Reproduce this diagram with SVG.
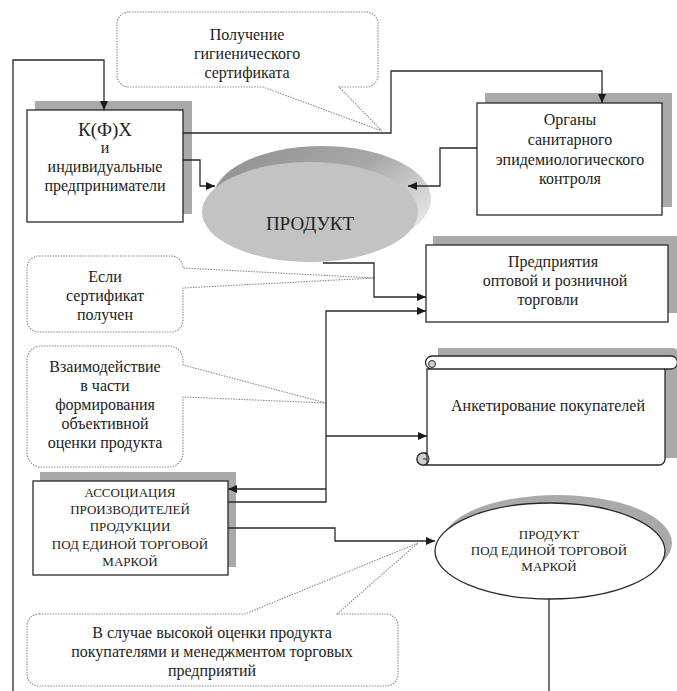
<svg xmlns="http://www.w3.org/2000/svg" width="677" height="691" viewBox="0 0 677 691">
<defs>
<style>
.bg{fill:#ffffff}
.box{fill:#ffffff;stroke:#2a2a2a;stroke-width:1.3}
.shadow{fill:#a9a9a9}
.callout{fill:#ffffff;stroke:#8a8a8a;stroke-width:1.1;stroke-dasharray:1.5 1.2}
.conn{fill:none;stroke:#2a2a2a;stroke-width:1.3}
text{font-family:'Liberation Serif','DejaVu Serif',serif;fill:#222;text-anchor:middle}
.t16{font-size:16px}
.t13{font-size:13px}
</style>
<marker id="arr" markerWidth="9" markerHeight="8" refX="9" refY="4" orient="auto" markerUnits="userSpaceOnUse">
<path d="M0,0 L9,4 L0,8 Z" fill="#1a1a1a"/>
</marker>
<linearGradient id="pshadow" x1="0" y1="0" x2="1" y2="0.6">
<stop offset="0" stop-color="#8f8f8f"/>
<stop offset="0.6" stop-color="#a8a8a8"/>
<stop offset="1" stop-color="#e2e2e2"/>
</linearGradient>
</defs>
<rect class="bg" x="0" y="0" width="677" height="691"/>

<g id="callout-certificate" font-family="Liberation Serif">
<path class="callout" d="M129,12 H366 A12 12 0 0 1 378,24 V75 A12 12 0 0 1 366,87 H339 L382,131 L263,87 H129 A12 12 0 0 1 117,75 V24 A12 12 0 0 1 129,12 Z"/>
<text class="t16" x="247" y="40">Получение</text>
<text class="t16" x="247" y="59">гигиенического</text>
<text class="t16" x="247" y="78">сертификата</text>
</g>

<g id="node-kfx">
<rect class="shadow" x="35" y="101" width="157" height="113"/>
<rect class="box" x="27" y="110" width="156" height="112"/>
<text font-size="19" x="105" y="136">К(Ф)Х</text>
<text class="t16" x="105" y="153">и</text>
<text class="t16" x="105" y="172">индивидуальные</text>
<text class="t16" x="105" y="191">предприниматели</text>
</g>

<g id="node-organs">
<rect class="shadow" x="485" y="93" width="187" height="114"/>
<rect class="box" x="477" y="103" width="185" height="112"/>
<text class="t16" x="570" y="125">Органы</text>
<text class="t16" x="570" y="145">санитарного</text>
<text class="t16" x="570" y="165">эпидемиологического</text>
<text class="t16" x="570" y="184">контроля</text>
</g>

<g id="node-product">
<ellipse cx="322" cy="199" rx="109" ry="53" fill="url(#pshadow)"/>
<ellipse cx="310" cy="212" rx="108" ry="50" fill="#c3c3c3"/>
<text font-size="19" x="310" y="230">ПРОДУКТ</text>
</g>

<g id="callout-received">
<path class="callout" d="M39,256 H171 A12 12 0 0 1 183,268 L375,278 L183,288 V320 A12 12 0 0 1 171,332 H39 A12 12 0 0 1 27,320 V268 A12 12 0 0 1 39,256 Z"/>
<text class="t16" x="105" y="282">Если</text>
<text class="t16" x="105" y="301">сертификат</text>
<text class="t16" x="105" y="320">получен</text>
</g>

<g id="node-trade">
<rect class="shadow" x="433" y="236" width="244" height="77"/>
<rect class="box" x="426" y="245" width="242" height="77"/>
<text class="t16" x="553" y="267">Предприятия</text>
<text class="t16" x="555" y="286">оптовой и розничной</text>
<text class="t16" x="548" y="305">торговли</text>
</g>

<g id="callout-interaction">
<path class="callout" d="M41,346 H169 A14 14 0 0 1 183,360 V365 L326,403 L183,397 V453 A14 14 0 0 1 169,467 H41 A14 14 0 0 1 27,453 V360 A14 14 0 0 1 41,346 Z"/>
<text class="t16" x="105" y="372">Взаимодействие</text>
<text class="t16" x="105" y="391">в части</text>
<text class="t16" x="105" y="410">формирования</text>
<text class="t16" x="105" y="429">объективной</text>
<text class="t16" x="105" y="448">оценки продукта</text>
</g>

<g id="node-survey">
<path class="shadow" d="M438,348 H673 A4 4 0 0 1 677,352 V458 H438 Z"/>
<path class="box" d="M432,356 H671 A6.5 6.5 0 0 1 671,369 H665 V459 A6 6 0 0 1 659,465 H423 A6 6 0 0 1 423,453 H427 V369 H432 A6.5 6.5 0 0 1 432,356 Z"/>
<path class="conn" d="M432,369 H665"/>
<circle cx="432" cy="364" r="3.5" fill="#cfcfcf" stroke="#2a2a2a" stroke-width="1"/>
<circle cx="423" cy="459" r="6" fill="#cfcfcf" stroke="#2a2a2a" stroke-width="1.1"/>
<path d="M427,453 V465 M423,459 H427" fill="none" stroke="#2a2a2a" stroke-width="1.1"/>
<text class="t16" x="548" y="411">Анкетирование покупателей</text>
</g>

<g id="node-association">
<rect class="shadow" x="40" y="472" width="196" height="95"/>
<rect class="box" x="33" y="481" width="195" height="94"/>
<text class="t13" x="130" y="497">АССОЦИАЦИЯ</text>
<text class="t13" x="130" y="514">ПРОИЗВОДИТЕЛЕЙ</text>
<text class="t13" x="130" y="531">ПРОДУКЦИИ</text>
<text class="t13" x="130" y="549">ПОД ЕДИНОЙ ТОРГОВОЙ</text>
<text class="t13" x="130" y="566">МАРКОЙ</text>
</g>

<g id="node-brand-product">
<ellipse class="shadow" cx="557" cy="543" rx="115" ry="48"/>
<ellipse class="box" cx="550" cy="551" rx="115" ry="48"/>
<text class="t13" x="549" y="539">ПРОДУКТ</text>
<text class="t13" x="549" y="555">ПОД ЕДИНОЙ ТОРГОВОЙ</text>
<text class="t13" x="549" y="571">МАРКОЙ</text>
</g>

<g id="callout-high-rating">
<path class="callout" d="M39,614 H245 L418,543 L337,614 H386 A12 12 0 0 1 398,626 V674 A12 12 0 0 1 386,686 H39 A12 12 0 0 1 27,674 V626 A12 12 0 0 1 39,614 Z"/>
<text class="t16" x="212" y="638">В случае высокой оценки продукта</text>
<text class="t16" x="212" y="657">покупателями и менеджментом торговых</text>
<text class="t16" x="212" y="676">предприятий</text>
</g>

<g id="connectors">
<path class="conn" d="M13,691 V60 H104 V110" marker-end="url(#arr)"/>
<path class="conn" d="M549,599 V691"/>
<path class="conn" d="M183,133 H391 V71 H602 V103" marker-end="url(#arr)"/>
<path class="conn" d="M183,160 H200 V186 H215" marker-end="url(#arr)"/>
<path class="conn" d="M477,148 H440 V186 H408" marker-end="url(#arr)"/>
<path class="conn" d="M323,263 H374 V297 H426" marker-end="url(#arr)"/>
<path class="conn" d="M228,502 H326 V311 H426" marker-end="url(#arr)"/>
<path class="conn" d="M326,489 H228" marker-end="url(#arr)"/>
<path class="conn" d="M326,436 H427" marker-end="url(#arr)"/>
<path class="conn" d="M228,528 H335 V541 H435" marker-end="url(#arr)"/>
</g>
</svg>
